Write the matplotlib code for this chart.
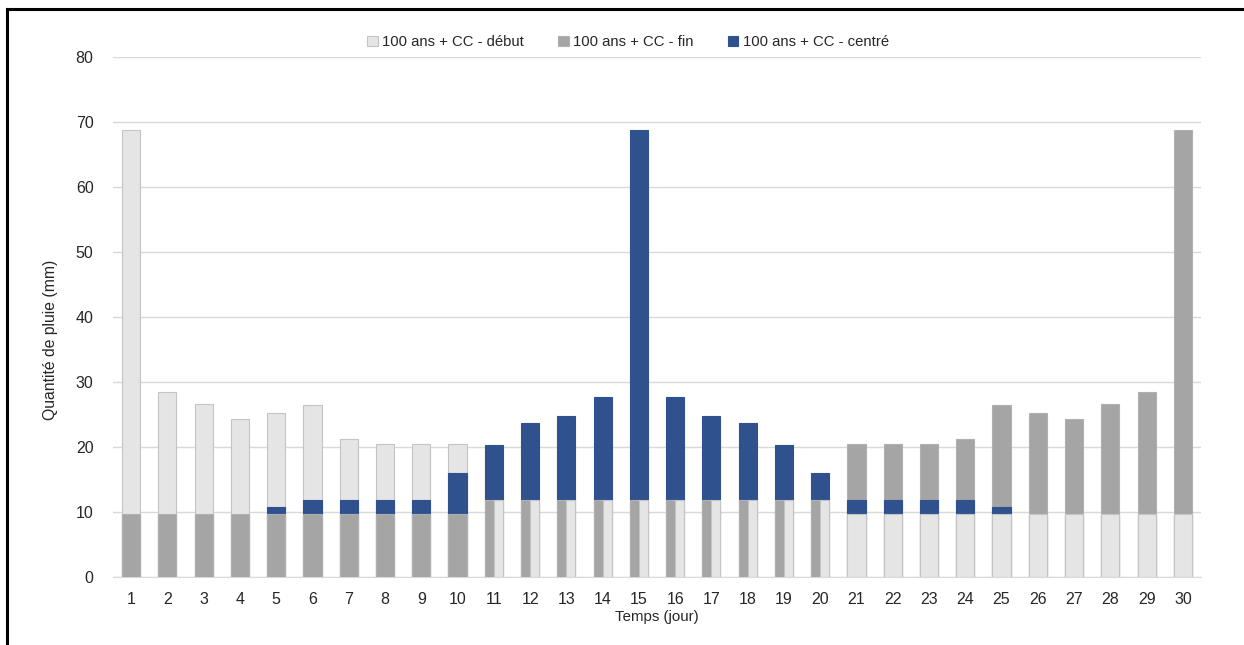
import matplotlib
matplotlib.use("Agg")
import matplotlib.pyplot as plt
from matplotlib.lines import Line2D
import numpy as np

plt.rcParams['font.family'] = ['Liberation Sans', 'DejaVu Sans']

days = list(range(1, 31))
debut = [68.8, 28.5, 26.6, 24.3, 25.3, 26.5, 21.2, 20.5, 20.5, 20.5,
         11.8, 11.8, 11.8, 11.8, 11.8, 11.8, 11.8, 11.8, 11.8, 11.8,
         9.7, 9.7, 9.7, 9.7, 9.7, 9.7, 9.7, 9.7, 9.7, 9.7]
fin = [9.7, 9.7, 9.7, 9.7, 9.7, 9.7, 9.7, 9.7, 9.7, 9.7,
       11.8, 11.8, 11.8, 11.8, 11.8, 11.8, 11.8, 11.8, 11.8, 11.8,
       20.5, 20.5, 20.5, 21.2, 26.5, 25.3, 24.3, 26.6, 28.5, 68.8]
centre = [9.6, 9.6, 9.6, 9.6, 10.8, 11.8, 11.8, 11.8, 11.8, 16.0,
          20.3, 23.7, 24.8, 27.7, 68.8, 27.7, 24.8, 23.7, 20.3, 16.0,
          11.8, 11.8, 11.8, 11.8, 10.8, 9.6, 9.6, 9.6, 9.6, 9.6]
labels = ["100 ans + CC - début", "100 ans + CC - fin", "100 ans + CC - centré"]
colors = ["#e5e5e5", "#a5a5a5", "#2f528f"]
edges = ["#c4c4c4", "#b0b0b0", "#2f528f"]

fig = plt.figure(figsize=(12.44, 6.45), dpi=100)
ax = fig.add_axes([113/1244, 1-577/645, (1201-113)/1244, (577-57)/645])

x = np.array(days, dtype=float)
w = 0.5
d = np.array(debut); f = np.array(fin); c = np.array(centre)

for i in range(len(days)):
    left = x[i] - w / 2
    # centred series sits between the two others
    ax.bar(left, c[i], width=w, align='edge', color=colors[2],
           edgecolor=edges[2], linewidth=0.8, zorder=4)
    if d[i] == f[i]:
        ax.bar(left, f[i], width=w / 2, align='edge', color=colors[1],
               edgecolor=edges[1], linewidth=0.8, zorder=5)
        ax.bar(left + w / 2, d[i], width=w / 2, align='edge', color=colors[0],
               edgecolor=edges[0], linewidth=0.8, zorder=5)
    else:
        zd = 3 if d[i] > f[i] else 5
        zf = 3 if f[i] > d[i] else 5
        ax.bar(left, d[i], width=w, align='edge', color=colors[0],
               edgecolor=edges[0], linewidth=0.8, zorder=zd)
        ax.bar(left, f[i], width=w, align='edge', color=colors[1],
               edgecolor=edges[1], linewidth=0.8, zorder=zf)

ax.set_xlim(0.5, 30.5)
ax.set_ylim(0, 80)
ax.set_yticks(range(0, 81, 10))
ax.set_xticks(days)
ax.grid(axis='y', color='#d9d9d9', linewidth=1, zorder=0)
for s in ['top', 'right', 'left']:
    ax.spines[s].set_visible(False)
ax.spines['bottom'].set_color('#d9d9d9')
ax.tick_params(axis='both', length=0, labelsize=11.5, colors='#262626')
ax.tick_params(axis='x', pad=11)
ax.tick_params(axis='y', pad=14)
ax.set_ylabel("Quantité de pluie (mm)", fontsize=11.3, color='#262626')
ax.yaxis.set_label_coords(-0.0506, 0.456)
ax.set_xlabel("Temps (jour)", fontsize=10.8, color='#262626', labelpad=2)

handles = [plt.Rectangle((0, 0), 1, 1, facecolor=cc, edgecolor=e, linewidth=0.8)
           for cc, e in zip(colors, edges)]
fig.legend(handles, labels, loc='center', bbox_to_anchor=(628/1244, 1-42/645),
           ncol=3, frameon=False, fontsize=10.7, handlelength=0.7, handleheight=0.7,
           handletextpad=0.3, columnspacing=2.3, labelcolor='#262626')

fig.add_artist(Line2D([7/1244, 1], [1-9/645, 1-9/645], color='black', linewidth=2.2,
                      transform=fig.transFigure))
fig.add_artist(Line2D([7/1244, 7/1244], [0, 1-9/645], color='black', linewidth=2.2,
                      transform=fig.transFigure))

fig.savefig("out.png", dpi=100, facecolor='white')
